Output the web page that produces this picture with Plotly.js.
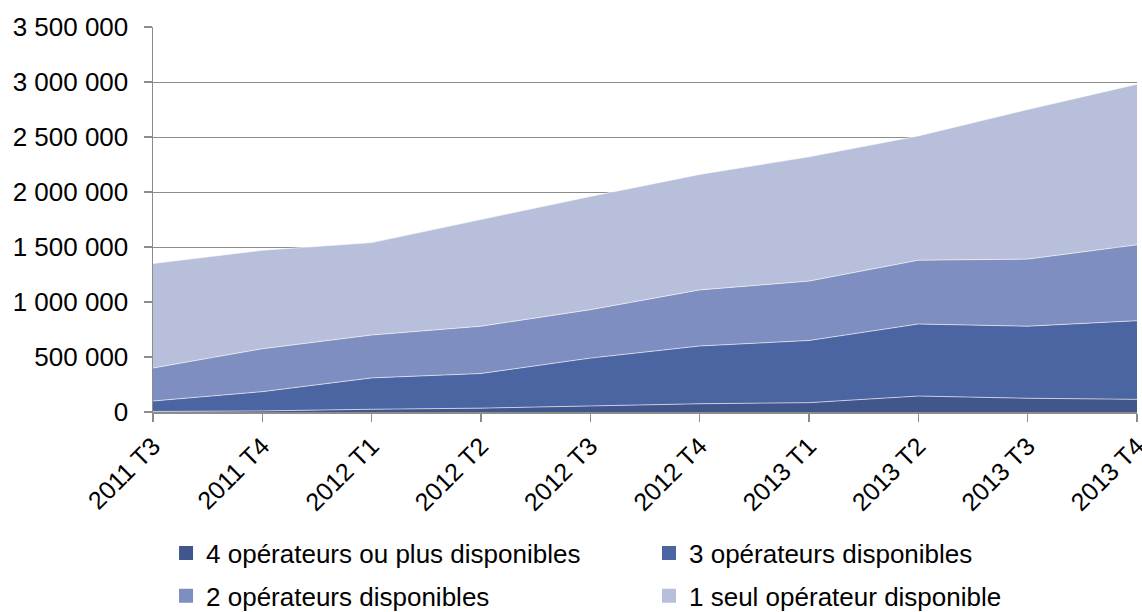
<!DOCTYPE html>
<html><head><meta charset="utf-8">
<script src="https://cdn.plot.ly/plotly-3.0.1.min.js"></script>
<style>html,body{margin:0;padding:0;background:#fff}#c{width:1142px;height:612px}</style>
</head><body><div id="c"></div>
<script>
const categories = ["2011 T3","2011 T4","2012 T1","2012 T2","2012 T3","2012 T4","2013 T1","2013 T2","2013 T3","2013 T4"];
const ops4 = [5000, 10000, 25000, 35000, 55000, 75000, 85000, 145000, 125000, 115000];
const ops3 = [95000, 175000, 285000, 315000, 435000, 525000, 565000, 655000, 655000, 715000];
const ops2 = [300000, 390000, 390000, 430000, 440000, 510000, 540000, 580000, 610000, 690000];
const ops1 = [950000, 895000, 840000, 970000, 1030000, 1050000, 1130000, 1130000, 1360000, 1460000];
const seriesNames = ["4 opérateurs ou plus disponibles","3 opérateurs disponibles","2 opérateurs disponibles","1 seul opérateur disponible"];
const yTickVals = [0,500000,1000000,1500000,2000000,2500000,3000000,3500000];
const yTickText = ["0","500 000","1 000 000","1 500 000","2 000 000","2 500 000","3 000 000","3 500 000"];
const colors = ["#41568B","#4A65A2","#7F8EC0","#B7BFDA"];
const legendIds = ["legend","legend2","legend3","legend4"];
const areas = [ops4, ops3, ops2, ops1].map((v,i)=>({
  x: categories, y: v, name: seriesNames[i], type: 'scatter', mode: 'lines',
  stackgroup: 'one', fillcolor: colors[i], line: {color: '#ffffff', width: 0.6},
  showlegend: false
}));
// legend swatches (square markers, no data points)
const swatches = seriesNames.map((n,i)=>({
  x: [null], y: [null], name: n, type: 'scatter', mode: 'markers',
  marker: {symbol: 'square', size: 14, color: colors[i]},
  legend: legendIds[i], showlegend: true
}));
const legendPos = [[0.1454, 0.0964],[0.5683, 0.0964],[0.1454, 0.0262],[0.5683, 0.0262]];
const mkLegend = (p)=>({
  xref: 'container', yref: 'container', x: p[0], y: p[1],
  xanchor: 'left', yanchor: 'middle', orientation: 'h',
  font: {size: 26, color: '#000'}, bgcolor: 'rgba(0,0,0,0)'
});
const layout = {
  width: 1142, height: 612,
  margin: {l:153, r:5, t:27, b:200},
  paper_bgcolor: '#fff', plot_bgcolor: '#fff',
  font: {family: 'Liberation Sans, Arial, sans-serif', color: '#000', size: 26},
  xaxis: {
    type: 'category', range: [0, 9], tickangle: -45,
    showline: true, linecolor: '#8c8c8c', linewidth: 1.5,
    ticks: 'outside', ticklen: 8, tickcolor: '#8c8c8c', tickwidth: 1.5,
    showgrid: false, zeroline: false, tickfont: {size: 25}, automargin: false
  },
  yaxis: {
    range: [0, 3500000], tickvals: yTickVals, ticktext: yTickText,
    showline: true, linecolor: '#8c8c8c', linewidth: 1.5,
    ticks: 'outside', ticklen: 8, tickcolor: '#8c8c8c', tickwidth: 1.5,
    showgrid: true, gridcolor: '#8c8c8c', gridwidth: 1, zeroline: false,
    tickfont: {size: 26}, ticklabelstandoff: 10, automargin: false
  },
  legend: mkLegend(legendPos[0]),
  legend2: mkLegend(legendPos[1]),
  legend3: mkLegend(legendPos[2]),
  legend4: mkLegend(legendPos[3])
};
Plotly.newPlot('c', areas.concat(swatches), layout, {displayModeBar: false, staticPlot: true});
</script></body></html>
